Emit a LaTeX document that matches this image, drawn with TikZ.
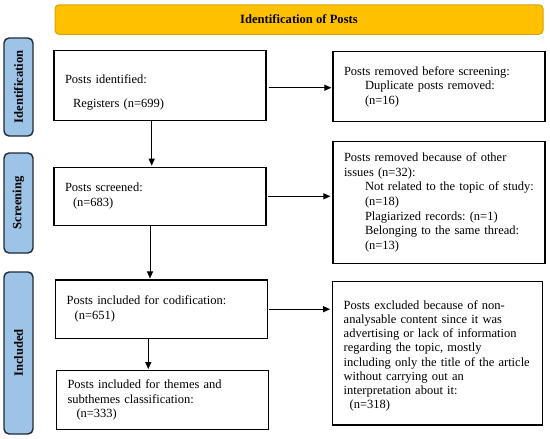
\documentclass[tikz,border=0pt]{standalone}
\usepackage{fontspec}
\setmainfont{Liberation Serif}
\usetikzlibrary{arrows.meta}
\definecolor{postorange}{HTML}{FFC000}
\definecolor{postorangeline}{HTML}{D9A300}
\definecolor{tabblue}{HTML}{9DC3E6}
\definecolor{tabline}{HTML}{1F2937}

\begin{document}
\begin{tikzpicture}[x=1pt, y=-1pt,
        every node/.style={font=\fontsize{12.5}{14.7}\selectfont\frenchspacing},
        title/.style={draw=postorangeline, fill=postorange, line width=1pt, rounded corners=4pt,
            minimum width=488pt, minimum height=29.5pt, font=\fontsize{12.6}{14.7}\selectfont\bfseries},
        tab/.style={draw=tabline, fill=tabblue, line width=1.4pt, rounded corners=5pt, rotate=90,
            minimum height=29pt, font=\fontsize{12.6}{14.7}\selectfont\bfseries},
        b/.style={draw, line width=1.2pt, minimum width=212pt, text width=190pt, align=left},
        arr/.style={-{Triangle[length=7pt,width=6pt]}, line width=1pt}]
        \useasboundingbox (0, 0) rectangle (550, 439);

        \node[title] (top) at (299, 19.5) {Identification of Posts};
        \node[tab, minimum width=98pt] (t1) at (18.5, 87) {Identification};
        \node[tab, minimum width=100pt] (t2) at (18.5, 203) {Screening};
        \node[tab, minimum width=162pt] (t3) at (18.5, 353) {Included};

        \node[b, minimum height=70pt] (a) at (160, 85.7) {\rule{0pt}{22pt}Posts identified:\\[9.3pt]\hspace*{8pt}Registers (n=699)};
        \node[b, minimum height=70pt] (rb) at (439, 86.7) {\mbox{Posts removed before screening:}\\\hspace*{21pt}Duplicate posts removed:\\\hspace*{21pt}(n=16)};
        \node[b, minimum height=58pt] (c) at (160, 196.3) {Posts screened:\\\hspace*{8pt}(n=683)};
        \node[b, minimum height=121.6pt] (rc) at (439, 202.5) {Posts removed because of other\\issues (n=32):\\\hspace*{21pt}\mbox{Not related to the topic of study:}\\\hspace*{21pt}(n=18)\\\hspace*{21pt}\mbox{Plagiarized records: (n=1)}\\\hspace*{21pt}\mbox{Belonging to the same thread:}\\\hspace*{21pt}(n=13)};
        \node[b, minimum height=58.3pt] (e) at (161.7, 309.2) {\mbox{Posts included for codification:}\\\hspace*{8pt}(n=651)};
        \node[b, minimum width=210pt, text width=188pt, minimum height=143.3pt,
            font=\fontsize{12.5}{14.1}\selectfont\frenchspacing] (re) at (437.7, 353.3) {\rule{0pt}{14pt}\mbox{Posts excluded because of non-}\\analysable content since it was\\\mbox{advertising or lack of information}\\regarding the topic, mostly\\\mbox{including only the title of the article}\\without carrying out an\\interpretation about it:\\\hspace*{6pt}(n=318)};
        \node[b, minimum height=58.6pt] (g) at (162.5, 400) {Posts included for themes and\\subthemes classification:\\\hspace*{9pt}(n=333)};

        \draw[arr, shorten >=1pt] ([xshift=2pt, yshift=-2pt]a.east) -- ([yshift=-2pt]a.east -| rb.west);
        \draw[arr, shorten >=2pt] ([xshift=1pt]c.east) -- (c.east -| rc.west);
        \draw[arr, shorten >=2pt] ([xshift=1pt]e.east) -- (e.east -| re.west);
        \draw[arr, shorten >=1pt] ([xshift=-8.3pt]a.south) -- ([xshift=-8.3pt]a.south |- c.north);
        \draw[arr, shorten >=1pt] ([xshift=-10pt]c.south) -- ([xshift=-10pt]c.south |- e.north);
        \draw[arr, shorten >=1pt] ([xshift=-13.4pt]e.south) -- ([xshift=-13.4pt]e.south |- g.north);
    \end{tikzpicture}
\end{document}
